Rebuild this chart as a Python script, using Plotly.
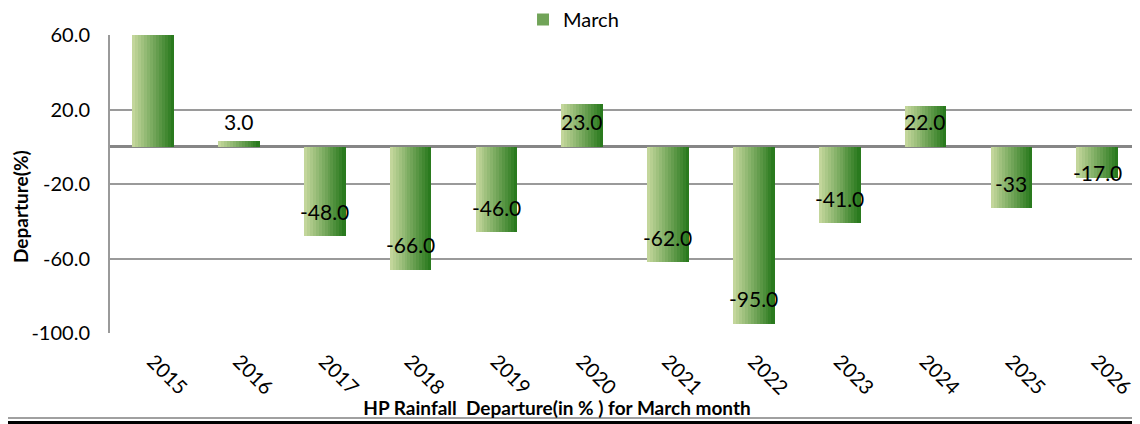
import plotly.graph_objects as go

years = ["2015", "2016", "2017", "2018", "2019", "2020", "2021", "2022", "2023", "2024", "2025", "2026"]
departure = [65.0, 3.0, -48.0, -66.0, -46.0, 23.0, -62.0, -95.0, -41.0, 22.0, -33.0, -17.0]
labels = ["", "3.0", "-48.0", "-66.0", "-46.0", "23.0", "-62.0", "-95.0", "-41.0", "22.0", "-33", "-17.0"]
y_ticks = [-100, -60, -20, 20, 60]
y_tick_labels = ["-100.0", "-60.0", "-20.0", "20.0", "60.0"]
series_name = "March"
title_text = "HP Rainfall  Departure(in % ) for March month"
y_title = "Departure(%)"

FONT = "Lato"
light = (0xC3, 0xD6, 0x9B)
dark = (0x2A, 0x7A, 0x1E)
N = 14
bar_w = 0.48

fig = go.Figure()
for i in range(N):
    t = i / (N - 1)
    c = tuple(round(light[k] + (dark[k] - light[k]) * t) for k in range(3))
    fig.add_trace(go.Bar(
        x=years, y=departure,
        width=bar_w / N + 0.004,
        offset=-bar_w / 2 + i * bar_w / N,
        marker=dict(color="rgb(%d,%d,%d)" % c, line=dict(width=0)),
        name=series_name,
        showlegend=(i == N // 2),
        hoverinfo="skip",
    ))

# data labels (x given as category index)
off = 13.4
for idx, (v, lab) in enumerate(zip(departure, labels)):
    if not lab:
        continue
    ly = off if v >= 0 else min(v + off, -14.0)
    fig.add_annotation(x=idx, y=ly, text=lab, showarrow=False,
                       font=dict(family=FONT, size=21, color="#000"),
                       xanchor="center", yanchor="middle")

# y-axis title (placed like the reference, slightly below the plot centre)
fig.add_annotation(xref="paper", yref="paper", x=-0.0874, y=0.426,
                   text="<b>" + y_title + "</b>", textangle=-90, showarrow=False,
                   xanchor="center", yanchor="middle",
                   font=dict(family=FONT, size=19, color="#000"))

fig.update_layout(
    width=1140, height=424,
    margin=dict(l=102, r=8, t=27, b=99, autoexpand=False),
    paper_bgcolor="white", plot_bgcolor="white",
    barmode="overlay", bargap=0,
    font=dict(family=FONT, size=20, color="#000"),
    showlegend=True,
    legend=dict(orientation="h", yref="paper",
                x=0.401, y=1.052, xanchor="left", yanchor="middle",
                font=dict(family=FONT, size=20, color="#000"),
                bgcolor="rgba(0,0,0,0)", itemwidth=30),
    title=dict(text="<b>" + title_text + "</b>", xref="container", yref="container",
               x=0.4816, y=0.0566, xanchor="center", yanchor="middle",
               font=dict(family=FONT, size=19, color="#000")),
)
fig.update_yaxes(
    range=[-100, 60], tickvals=y_ticks, ticktext=y_tick_labels,
    showgrid=True, gridcolor="#9a9a9a", gridwidth=2,
    zeroline=True, zerolinecolor="#868686", zerolinewidth=2.5,
    showline=True, linecolor="#9a9a9a", linewidth=2,
    ticks="", ticklabelstandoff=14, automargin=False,
    tickfont=dict(family=FONT, size=20, color="#000"),
)
fig.update_xaxes(
    type="category", tickangle=45, showgrid=False,
    range=[-0.5, len(years) - 0.5], automargin=False,
    showline=False, ticks="", ticklabelstandoff=12,
    tickfont=dict(family=FONT, size=20, color="#000"),
)
# outer frame lines at the bottom
fig.add_shape(type="line", xref="paper", yref="paper",
              x0=-110 / 1030, x1=1.01, y0=-85 / 298, y1=-85 / 298,
              line=dict(color="#a0a0a0", width=2))
fig.add_shape(type="line", xref="paper", yref="paper",
              x0=-110 / 1030, x1=1.01, y0=-89.5 / 298, y1=-89.5 / 298,
              line=dict(color="#000", width=3))

fig.write_html("out.html")
